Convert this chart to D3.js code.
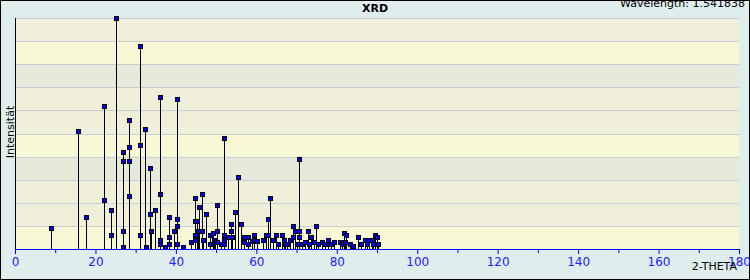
<!DOCTYPE html>
<html>
<head>
<meta charset="utf-8">
<script src="https://cdn.jsdelivr.net/npm/d3@7"></script>
<style>
    body { margin: 0; background: #ffffff; }
    svg { display: block; font-family: "DejaVu Sans", sans-serif; }
</style>
</head>
<body>
<div id="chart"></div>
<script>
// peak positions (2-theta) and relative intensities
let twoTheta = [
    9.04, 15.76, 17.75, 22.23, 22.23, 23.97, 23.97, 25.22,
    26.96, 26.96, 26.96, 26.96, 28.45, 28.45, 28.45, 28.45,
    31.19, 31.19, 31.19, 32.44, 32.68, 33.68, 33.68, 33.93, 34.93,
    36.17, 36.17, 36.17, 36.17, 37.17, 38.41, 38.41, 38.41, 39.41,
    40.40, 40.40, 40.40, 40.40, 41.65, 43.64, 44.64, 44.64, 44.64, 44.64,
    45.13, 45.38, 45.63, 45.63, 46.38, 46.38, 46.63, 47.37, 48.37, 48.37,
    49.12, 49.37, 49.61, 50.11, 50.11, 50.11, 51.11, 51.86, 51.86, 51.86, 51.86,
    52.85, 53.60, 53.60, 53.85, 54.59, 55.34, 56.09, 56.83, 56.83, 57.83, 57.83,
    58.82, 59.32, 59.32, 60.07, 61.56, 62.31, 62.81, 62.81, 63.31, 64.05,
    64.80, 65.50, 66.29, 66.80, 67.04, 67.60, 68.28, 69.03, 69.03, 69.53,
    70.00, 70.53, 70.53, 70.53, 71.30, 72.02, 72.77, 73.00, 73.51, 74.26,
    74.76, 75.30, 76.25, 77.00, 77.74, 78.50, 79.24, 80.70, 81.20, 81.73,
    82.00, 82.40, 83.20, 84.00, 85.21, 85.96, 86.96, 87.45, 87.95, 88.70,
    88.95, 89.45, 89.95, 90.20
]
let intensity = [
    9.0, 51.0, 13.7, 61.8, 21.1, 16.8, 5.9, 100,
    41.9, 38.0, 7.7, 0.7, 55.7, 44.0, 38.0, 22.8,
    87.7, 44.9, 5.9, 51.8, 0.7, 34.9, 15.0, 7.7, 16.9,
    65.7, 23.7, 3.8, 2.0, 1.0, 13.7, 5.1, 2.0, 7.7,
    64.8, 12.9, 9.8, 2.0, 0.7, 2.9, 21.9, 12.0, 5.9, 3.8,
    12.0, 7.7, 18.1, 7.7, 23.7, 7.7, 3.8, 15.0, 5.9, 2.0,
    6.8, 3.8, 3.8, 18.9, 7.7, 2.9, 2.0, 47.9, 5.9, 3.8, 2.0,
    5.1, 10.7, 7.7, 5.1, 15.9, 31.0, 10.7, 5.1, 2.9, 5.1, 2.0,
    3.3, 5.9, 3.8, 3.3, 3.8, 5.9, 12.9, 5.9, 21.9, 3.8,
    5.9, 2.0, 5.9, 3.8, 2.0, 2.0, 3.8, 9.8, 5.1, 7.7,
    2.0, 38.8, 7.7, 5.1, 2.0, 2.9, 7.7, 2.0, 5.1, 2.9,
    9.8, 2.0, 2.9, 2.0, 3.8, 2.0, 2.9, 2.9, 2.0, 6.8,
    2.9, 5.9, 2.0, 1.2, 5.1, 2.0, 3.8, 2.0, 3.8, 3.8,
    2.0, 5.9, 5.1, 2.0
]
let xTicks = [0, 20, 40, 60, 80, 100, 120, 140, 160, 180]
let xMinorTicks = [10, 30, 50, 70, 90, 110, 130, 150, 170]
let yBands = [0, 10, 20, 30, 40, 50, 60, 70, 80, 90]
// band fill repeats every 4 bands starting from the bottom
let BAND_COLORS = ["#f8f8d6", "#f0f0da", "#f0f0da", "#e6eadb"]

let totalWidth = 750
let totalHeight = 280
let margins = {top: 18, right: 11, bottom: 31, left: 15}
let width = totalWidth - margins.left - margins.right
let height = totalHeight - margins.top - margins.bottom

let svg = d3.select("#chart").append("svg")
    .attr("width", totalWidth)
    .attr("height", totalHeight)

svg.append("rect")
    .attr("x", 0.5).attr("y", 0.5)
    .attr("width", totalWidth - 1).attr("height", totalHeight - 1)
    .attr("fill", "#e0eded")
    .attr("stroke", "#000")

let g = svg.append("g")
    .attr("transform", `translate(${margins.left}, ${margins.top})`)

let xScale = d3.scaleLinear().domain([0, 180]).range([0, width])
let yScale = d3.scaleLinear().domain([0, 100]).range([height, 0])

// background bands
g.selectAll("rect.band")
    .data(yBands)
    .enter().append("rect")
    .attr("class", "band")
    .attr("x", 0)
    .attr("width", width)
    .attr("y", d => yScale(d + 10))
    .attr("height", d => yScale(d) - yScale(d + 10))
    .attr("fill", (d, i) => BAND_COLORS[i % 4])

// horizontal grid
g.selectAll("line.grid")
    .data(yBands.slice(1).concat([100]))
    .enter().append("line")
    .attr("class", "grid")
    .attr("x1", 0).attr("x2", width)
    .attr("y1", d => Math.round(yScale(d)) + 0.5)
    .attr("y2", d => Math.round(yScale(d)) + 0.5)
    .attr("stroke", "#cdcdd3")

let peaks = twoTheta.map((t, i) => ({t: t, v: intensity[i]}))

// stems
g.selectAll("line.stem")
    .data(peaks)
    .enter().append("line")
    .attr("class", "stem")
    .attr("x1", d => Math.round(xScale(d.t)) + 0.5)
    .attr("x2", d => Math.round(xScale(d.t)) + 0.5)
    .attr("y1", yScale(0))
    .attr("y2", d => yScale(d.v))
    .attr("stroke", "#000")

// markers
g.selectAll("rect.marker")
    .data(peaks)
    .enter().append("rect")
    .attr("class", "marker")
    .attr("x", d => Math.round(xScale(d.t)) - 1.5)
    .attr("y", d => Math.round(yScale(d.v)) - 1.5)
    .attr("width", 4).attr("height", 4)
    .attr("fill", "#0000ff")
    .attr("stroke", "#000")

// y axis line
g.append("line")
    .attr("x1", 0.5).attr("x2", 0.5)
    .attr("y1", 0).attr("y2", height)
    .attr("stroke", "#000")

// x axis
let xAxis = g.append("g")
    .attr("transform", `translate(0, ${height})`)
    .call(d3.axisBottom(xScale).tickValues(xTicks).tickSize(5).tickPadding(3).tickSizeOuter(0))
xAxis.select(".domain").attr("stroke", "#0000ff")
xAxis.selectAll(".tick line").attr("stroke", "#0000ff")
xAxis.selectAll(".tick text")
    .attr("fill", "#2020ff")
    .attr("font-size", 12)
    .attr("font-family", "DejaVu Sans, sans-serif")

g.append("g")
    .attr("transform", `translate(0, ${height})`)
    .selectAll("line")
    .data(xMinorTicks)
    .enter().append("line")
    .attr("x1", d => xScale(d) + 0.5).attr("x2", d => xScale(d) + 0.5)
    .attr("y1", 0).attr("y2", 4)
    .attr("stroke", "#0000ff")

// labels
svg.append("text")
    .attr("x", 375).attr("y", 12)
    .attr("text-anchor", "middle")
    .attr("font-size", 11)
    .attr("font-weight", "bold")
    .text("XRD")

svg.append("text")
    .attr("x", 745).attr("y", 7)
    .attr("text-anchor", "end")
    .attr("font-size", 11)
    .text("Wavelength: 1.541838")

svg.append("text")
    .attr("x", 737).attr("y", 270)
    .attr("text-anchor", "end")
    .attr("font-size", 11)
    .text("2-THETA")

svg.append("text")
    .attr("transform", "rotate(-90)")
    .attr("x", -132).attr("y", 14)
    .attr("text-anchor", "middle")
    .attr("font-size", 11)
    .text("Intensität")
</script>
</body>
</html>
